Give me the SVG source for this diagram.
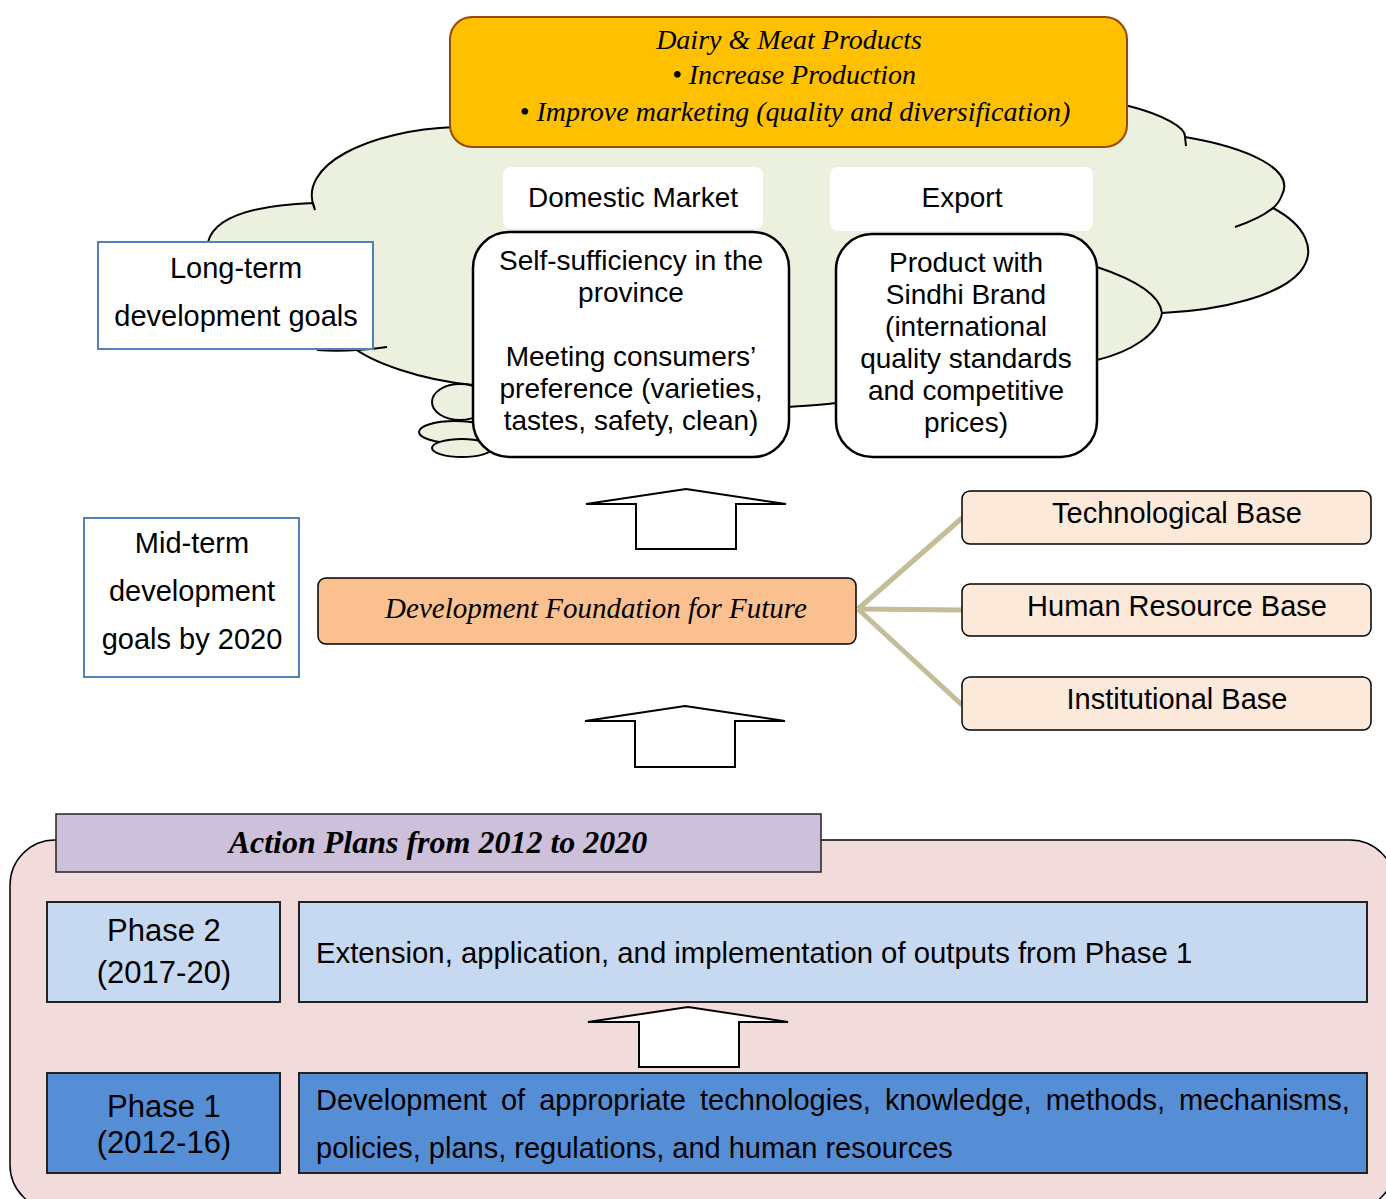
<svg xmlns="http://www.w3.org/2000/svg" width="1386" height="1199" viewBox="0 0 1386 1199">
<style>
.sans{font-family:"Liberation Sans",Arial,sans-serif;fill:#000}
.ser{font-family:"Liberation Serif","Times New Roman",serif;font-style:italic;fill:#000}
.cloud{fill:#EBF1DE;stroke:#000;stroke-width:2}
.tail{fill:none;stroke:#000;stroke-width:2}
.goal{fill:#fff;stroke:#4F81BD;stroke-width:2}
.rbox{fill:#fff;stroke:#000;stroke-width:2.5}
.arrow{fill:#fff;stroke:#000;stroke-width:2}
.base{fill:#FDE9D9;stroke:#000;stroke-width:1.5}
.conn{stroke:#C4BD97;stroke-width:5;fill:none}
</style>
<rect width="1386" height="1199" fill="#fff"/>
<g id="cloud">
<path class="cloud" d="M315,210 C295,165 370,130 455,127 L1125,105 C1165,115 1186,128 1185,137 C1250,148 1295,170 1282,195 C1280,200 1277,205 1273,208 C1305,225 1318,250 1300,272 C1280,295 1225,310 1162,313 C1158,335 1130,352 1097,360 L1097,410 L850,410 L836,403 C820,405 800,406 789,407 L780,410 L490,410 L473,385 C420,380 370,362 350,345 L220,330 L208,242 C215,215 260,205 313,203 Z"/>
<ellipse class="cloud" cx="460" cy="402" rx="28" ry="18"/>
<ellipse class="cloud" cx="455" cy="432" rx="36" ry="11"/>
<ellipse class="cloud" cx="462" cy="448" rx="30" ry="9"/>
<path class="tail" d="M317,350 C340,352 365,350 387,347"/>
<path class="tail" d="M1185,137 L1186,146"/>
<path class="tail" d="M1273,208 C1262,217 1250,222 1235,227"/>
<path class="tail" d="M1097,267 C1130,278 1160,293 1162,313"/>
</g>
<g id="bottom-panel">
<rect x="10" y="840" width="1385" height="370" rx="45" fill="#F2DCDB" stroke="#000" stroke-width="1.5"/>
</g>
<g id="connectors">
<path class="conn" d="M858,609 L962,518"/>
<path class="conn" d="M858,609 L962,610"/>
<path class="conn" d="M858,609 L962,705"/>
<path class="arrow" d="M686,489 L786,504 L736,504 L736,549 L636,549 L636,504 L586,504 Z"/>
<path class="arrow" d="M685,706 L785,721 L735,721 L735,767 L635,767 L635,721 L585,721 Z"/>
<path class="arrow" d="M688,1007 L788,1022 L739,1022 L739,1067 L639,1067 L639,1022 L588,1022 Z"/>
</g>
<g id="products">
<rect x="450" y="17" width="677" height="130" rx="22" fill="#FFC000" stroke="#984807" stroke-width="2"/>
<text class="ser" font-size="28" text-anchor="middle"><tspan x="789" y="49">Dairy &amp; Meat Products</tspan><tspan x="794" y="84">• Increase Production</tspan><tspan x="795" y="121">• Improve marketing (quality and diversification)</tspan></text>
</g>
<g id="domestic-label">
<rect x="503" y="167" width="260" height="62" rx="8" fill="#fff"/>
<text class="sans" font-size="28" x="633" y="207" text-anchor="middle">Domestic Market</text>
</g>
<g id="export-label">
<rect x="830" y="167" width="263" height="64" rx="8" fill="#fff"/>
<text class="sans" font-size="28" x="962" y="207" text-anchor="middle">Export</text>
</g>
<g id="domestic">
<rect class="rbox" x="473" y="232" width="316" height="225" rx="36"/>
<text class="sans" font-size="28" text-anchor="middle"><tspan x="631" y="270">Self-sufficiency in the</tspan><tspan x="631" y="302">province</tspan><tspan x="631" y="366">Meeting consumers’</tspan><tspan x="631" y="398">preference (varieties,</tspan><tspan x="631" y="430">tastes, safety, clean)</tspan></text>
</g>
<g id="export">
<rect class="rbox" x="836" y="234" width="261" height="223" rx="36"/>
<text class="sans" font-size="28" text-anchor="middle"><tspan x="966" y="272">Product with</tspan><tspan x="966" y="304">Sindhi Brand</tspan><tspan x="966" y="336">(international</tspan><tspan x="966" y="368">quality standards</tspan><tspan x="966" y="400">and competitive</tspan><tspan x="966" y="432">prices)</tspan></text>
</g>
<g id="long-term">
<rect class="goal" x="98" y="242" width="275" height="107"/>
<text class="sans" font-size="29" text-anchor="middle"><tspan x="236" y="278">Long-term</tspan><tspan x="236" y="326">development goals</tspan></text>
</g>
<g id="mid-term">
<rect class="goal" x="84" y="518" width="215" height="159"/>
<text class="sans" font-size="29" text-anchor="middle"><tspan x="192" y="553">Mid-term</tspan><tspan x="192" y="601">development</tspan><tspan x="192" y="649">goals by 2020</tspan></text>
</g>
<g id="foundation">
<rect x="318" y="578" width="538" height="66" rx="8" fill="#FAC090" stroke="#000" stroke-width="1.5"/>
<text class="ser" font-size="29" x="596" y="618" text-anchor="middle">Development Foundation for Future</text>
</g>
<g id="tech-base">
<rect class="base" x="962" y="491" width="409" height="53" rx="8"/>
<text class="sans" font-size="29" x="1177" y="523" text-anchor="middle">Technological Base</text>
</g>
<g id="hr-base">
<rect class="base" x="962" y="584" width="409" height="52" rx="8"/>
<text class="sans" font-size="29" x="1177" y="616" text-anchor="middle">Human Resource Base</text>
</g>
<g id="inst-base">
<rect class="base" x="962" y="677" width="409" height="53" rx="8"/>
<text class="sans" font-size="29" x="1177" y="709" text-anchor="middle">Institutional Base</text>
</g>
<g id="action-plans">
<rect x="56" y="814" width="765" height="58" fill="#CCC0DA" stroke="#222" stroke-width="1.5"/>
<text class="ser" font-size="32" font-weight="bold" x="438" y="853" text-anchor="middle">Action Plans from 2012 to 2020</text>
</g>
<g id="phase2">
<rect x="47" y="902" width="233" height="100" fill="#C6D9F1" stroke="#222" stroke-width="2"/>
<text class="sans" font-size="31" text-anchor="middle"><tspan x="164" y="941">Phase 2</tspan><tspan x="164" y="983">(2017-20)</tspan></text>
</g>
<g id="phase2-content">
<rect x="299" y="902" width="1068" height="100" fill="#C6D9F1" stroke="#222" stroke-width="2"/>
<text class="sans" font-size="29.3" x="316" y="963">Extension, application, and implementation of outputs from Phase 1</text>
</g>
<g id="phase1">
<rect x="47" y="1073" width="233" height="100" fill="#558ED5" stroke="#222" stroke-width="2"/>
<text class="sans" font-size="31" text-anchor="middle"><tspan x="164" y="1117">Phase 1</tspan><tspan x="164" y="1153">(2012-16)</tspan></text>
</g>
<g id="phase1-content">
<rect x="299" y="1073" width="1068" height="100" fill="#558ED5" stroke="#222" stroke-width="2"/>
<text class="sans" font-size="29" x="316" y="1110" word-spacing="6">Development of appropriate technologies, knowledge, methods, mechanisms,</text>
<text class="sans" font-size="29" x="316" y="1158">policies, plans, regulations, and human resources</text>
</g>
</svg>
